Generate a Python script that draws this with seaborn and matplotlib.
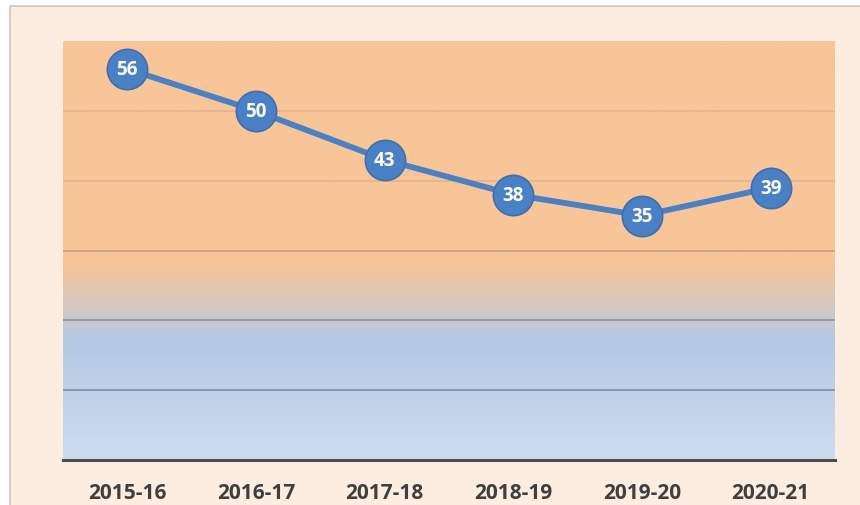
import numpy as np
import pandas as pd
import matplotlib
matplotlib.use("Agg")
import matplotlib.pyplot as plt
from matplotlib.colors import LinearSegmentedColormap
from matplotlib.patches import Rectangle
import seaborn as sns

years = ["2015-16", "2016-17", "2017-18", "2018-19", "2019-20", "2020-21"]
values = [56, 50, 43, 38, 35, 39]
y_ticks = [10, 20, 30, 40, 50]

sns.set_theme(style="white")
plt.rcParams['font.family'] = ['Open Sans', 'DejaVu Sans']

df = pd.DataFrame({"year": years, "value": values})
df["pos"] = np.arange(len(years))

fig = plt.figure(figsize=(8.6, 5.06), dpi=100)
fig.patch.set_facecolor("white")
# outer frame
fig.patches.append(Rectangle((10/860, -0.01), 1.0, (506-7)/506 + 0.01,
                             transform=fig.transFigure, facecolor="#FDEDE0",
                             edgecolor="#D2C4C4", linewidth=1.2, zorder=-10))

ax = fig.add_axes([63/860, 45/506, (835-63)/860, (461-42)/506])
ax.set_zorder(5)
ax.set_xlim(-0.5, len(years) - 0.5)
ax.set_ylim(0, 60)

# gradient background
cmap = LinearSegmentedColormap.from_list(
    "bg", [(0.0, "#CCDCEF"), (17/60, "#B5C9E3"), (28/60, "#F8C598"), (1.0, "#F8C598")])
grad = np.linspace(0, 1, 300).reshape(-1, 1)
ax.imshow(grad, cmap=cmap, origin="lower", aspect="auto",
          extent=[-0.5, len(years) - 0.5, 0, 60], zorder=0)

grid_alpha = [0.45, 0.4, 0.28, 0.12, 0.12]
for yt, a in zip(y_ticks, grid_alpha):
    ax.axhline(yt, color="#4a4a55", alpha=a, linewidth=1.3, zorder=1)

sns.lineplot(data=df, x="pos", y="value", ax=ax, color="#4A80C4",
             linewidth=4.2, marker="o", markersize=29,
             markeredgecolor="#3E6FAE", markeredgewidth=1.2, zorder=3)

for x, v in zip(df["pos"], values):
    ax.text(x, v, str(v), ha="center", va="center", color="white",
            fontsize=13.5, fontweight="bold", zorder=4)

for s in ["top", "right", "left"]:
    ax.spines[s].set_visible(False)
ax.spines["bottom"].set_color("#4d4d4d")
ax.spines["bottom"].set_linewidth(2.2)
ax.spines["bottom"].set_zorder(5)

ax.set_xticks(df["pos"])
ax.set_xticklabels(years, fontsize=15, fontweight="bold", color="#3F3F3F")
ax.tick_params(axis="x", length=0, pad=16)
ax.set_yticks([])
ax.set_xlabel("")
ax.set_ylabel("")

fig.savefig("out.png", dpi=100)
